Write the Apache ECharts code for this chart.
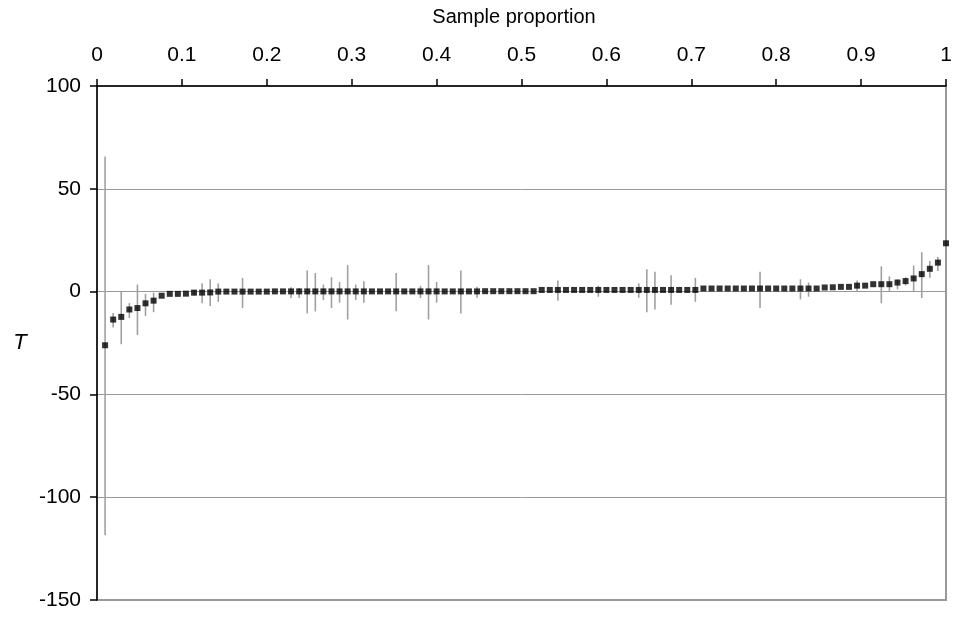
<!DOCTYPE html>
<html>
<head>
<meta charset="utf-8">
<script src="https://cdn.jsdelivr.net/npm/echarts@6/dist/echarts.min.js"></script>
<style>
html,body{margin:0;padding:0;background:#fff;}
#c{width:956px;height:617px;}
</style>
</head>
<body>
<div id="c"></div>
<script>
// Sample proportion of each point is index / N
var N = 105;
// T values (point estimates), points 1..105
var tValues = [
 -26.1, -13.6, -12.3, -8.7, -8.0, -5.7, -4.4, -2.0, -1.1, -1.1,
 -1.0, -0.5, -0.5, -0.4, 0.0, 0.0, 0.0, 0.0, 0.0, 0.0,
 0.0, 0.1, 0.1, 0.1, 0.1, 0.1, 0.1, 0.1, 0.1, 0.1,
 0.1, 0.1, 0.1, 0.1, 0.1, 0.1, 0.1, 0.1, 0.1, 0.1,
 0.1, 0.1, 0.1, 0.1, 0.1, 0.1, 0.1, 0.2, 0.2, 0.2,
 0.2, 0.2, 0.2, 0.2, 0.8, 0.8, 0.8, 0.8, 0.8, 0.8,
 0.8, 0.8, 0.8, 0.8, 0.8, 0.8, 0.8, 0.8, 0.8, 0.8,
 0.8, 0.8, 0.8, 0.8, 1.5, 1.5, 1.5, 1.5, 1.5, 1.5,
 1.5, 1.5, 1.5, 1.5, 1.5, 1.5, 1.5, 1.5, 1.5, 2.0,
 2.1, 2.3, 2.3, 2.9, 2.9, 3.6, 3.6, 3.6, 4.4, 5.1,
 6.4, 8.5, 11.1, 14.1, 23.5
];
// Error bars: [point index (1-based), low, high]
var errorBars = [
 [1, -118.5, 65.7],
 [2, -17.5, -10.4],
 [3, -25.6, 0.0],
 [4, -12.9, -5.6],
 [5, -21.1, 3.4],
 [6, -11.9, -1.1],
 [7, -10.0, -0.5],
 [12, -2.0, 0.8],
 [13, -5.7, 4.1],
 [14, -7.0, 6.0],
 [15, -5.0, 4.0],
 [18, -8.0, 6.7],
 [24, -3.1, 2.1],
 [25, -3.1, 1.7],
 [26, -10.6, 10.3],
 [27, -9.6, 9.0],
 [28, -4.1, 3.4],
 [29, -8.0, 7.0],
 [30, -5.4, 4.7],
 [31, -13.6, 12.9],
 [32, -4.1, 3.4],
 [33, -5.4, 5.0],
 [37, -9.6, 9.0],
 [40, -3.1, 2.8],
 [41, -13.6, 12.9],
 [42, -5.4, 4.7],
 [45, -10.6, 10.3],
 [47, -3.0, 2.4],
 [57, -4.4, 5.4],
 [62, -2.5, 2.8],
 [67, -3.0, 4.0],
 [68, -10.0, 10.9],
 [69, -8.7, 9.6],
 [71, -6.4, 8.0],
 [74, -5.0, 6.7],
 [82, -8.0, 9.6],
 [87, -3.8, 6.0],
 [88, -2.5, 4.4],
 [94, 0.0, 5.4],
 [97, -5.7, 12.3],
 [98, 0.0, 7.4],
 [99, 1.1, 6.0],
 [100, 3.0, 7.0],
 [101, 0.0, 12.6],
 [102, -3.1, 19.1],
 [103, 6.7, 14.9],
 [104, 10.0, 16.8]
];
var xTitle = 'Sample proportion';
var yTitle = 'T';

var pointData = tValues.map(function (v, i) { return [(i + 1) / N, v]; });
var barData = errorBars.map(function (e) { return [e[0] / N, e[1], e[2]]; });

var chart = echarts.init(document.getElementById('c'), null, {renderer: 'canvas'});
var font = 'Liberation Sans, Arial, sans-serif';
chart.setOption({
  animation: false,
  backgroundColor: '#fff',
  grid: {left: 97, right: 10, top: 86, bottom: 17, show: true, borderColor: '#999', borderWidth: 2, backgroundColor: 'transparent'},
  xAxis: {
    type: 'value', position: 'top', min: 0, max: 1, interval: 0.1,
    axisLine: {show: true, onZero: false, lineStyle: {color: '#000', width: 1.5}},
    axisTick: {show: true, inside: false, length: 7, lineStyle: {color: '#000', width: 1.5}},
    axisLabel: {fontFamily: font, fontSize: 21, color: '#000', margin: 20,
      formatter: function (v) { return String(Math.round(v * 10) / 10); }},
    splitLine: {show: false}
  },
  yAxis: {
    type: 'value', min: -150, max: 100, interval: 50,
    axisLine: {show: true, onZero: false, lineStyle: {color: '#000', width: 1.5}},
    axisTick: {show: true, length: 7, lineStyle: {color: '#000', width: 1.5}},
    axisLabel: {fontFamily: font, fontSize: 21, color: '#000', margin: 16},
    splitLine: {show: true, lineStyle: {color: '#999', width: 1}}
  },
  graphic: [
    {type: 'text', x: 514, y: 17, style: {text: xTitle, font: '20px ' + font, fill: '#000', textAlign: 'center', textVerticalAlign: 'middle'}},
    {type: 'text', x: 20, y: 343, style: {text: yTitle, font: 'italic 22px ' + font, fill: '#000', textAlign: 'center', textVerticalAlign: 'middle'}}
  ],
  series: [
    {
      type: 'custom',
      data: barData,
      z: 2,
      renderItem: function (params, api) {
        var x = api.value(0);
        var lo = api.coord([x, api.value(1)]);
        var hi = api.coord([x, api.value(2)]);
        return {type: 'line', shape: {x1: lo[0], y1: lo[1], x2: hi[0], y2: hi[1]},
          style: {stroke: '#a0a0a0', lineWidth: 1.6}};
      },
      encode: {x: 0, y: [1, 2]}
    },
    {
      type: 'scatter',
      data: pointData,
      symbol: 'rect',
      symbolSize: 6,
      itemStyle: {color: '#000'},
      z: 3
    }
  ]
});
</script>
</body>
</html>
